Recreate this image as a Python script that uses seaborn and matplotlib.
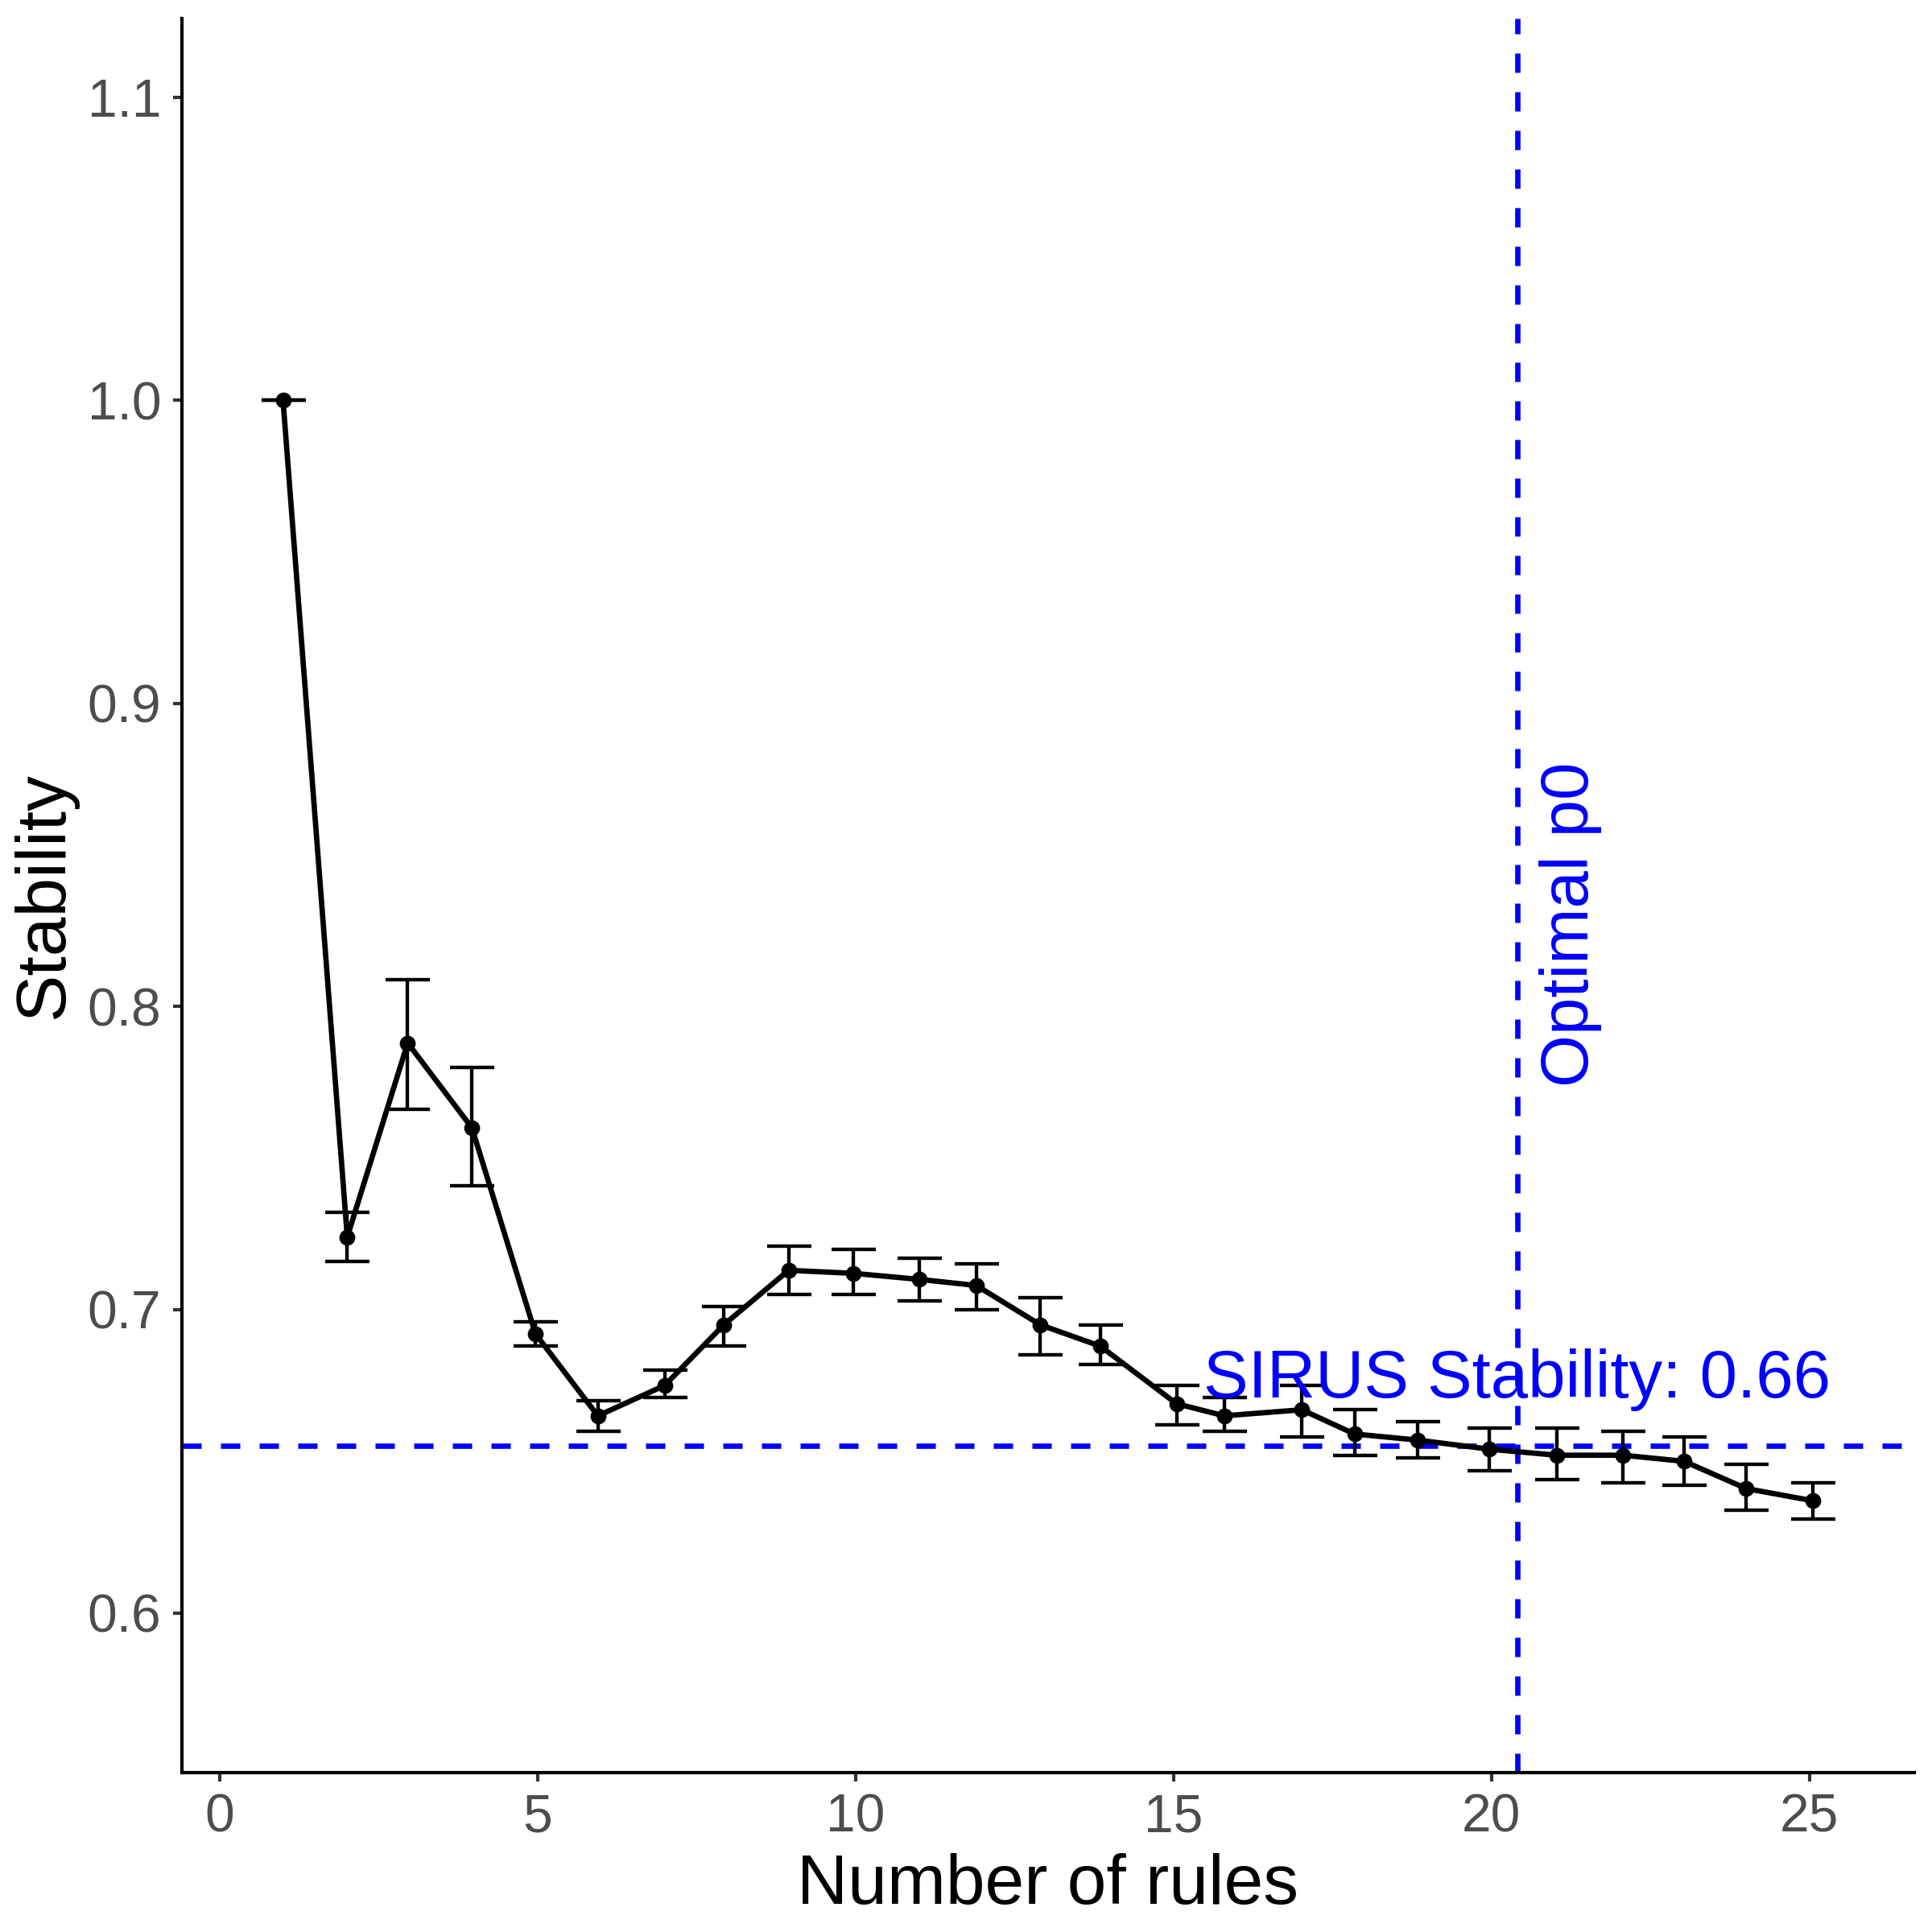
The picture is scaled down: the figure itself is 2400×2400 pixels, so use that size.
import numpy as np
import pandas as pd
import seaborn as sns
import matplotlib.pyplot as plt

# values
n_rules = [1.00, 2.01, 2.96, 3.97, 4.97, 5.95, 7.00, 7.93, 8.95, 9.97,
           11.01, 11.90, 12.91, 13.85, 15.05, 15.80, 17.02, 17.85, 18.84, 19.97,
           21.03, 22.07, 23.03, 24.01, 25.05]
stability = [1.000, 0.724, 0.788, 0.760, 0.692, 0.665, 0.675, 0.695, 0.713, 0.712,
             0.710, 0.708, 0.695, 0.688, 0.669, 0.665, 0.667, 0.659, 0.657, 0.654,
             0.652, 0.652, 0.650, 0.641, 0.637]
err_low = [1.000, 0.716, 0.766, 0.741, 0.688, 0.660, 0.671, 0.688, 0.705, 0.705,
           0.703, 0.700, 0.685, 0.682, 0.662, 0.660, 0.658, 0.652, 0.651, 0.647,
           0.644, 0.643, 0.642, 0.634, 0.631]
err_high = [1.000, 0.732, 0.809, 0.780, 0.696, 0.670, 0.680, 0.701, 0.721, 0.720,
            0.717, 0.715, 0.704, 0.695, 0.675, 0.671, 0.675, 0.667, 0.663, 0.661,
            0.661, 0.660, 0.658, 0.649, 0.643]
sirus_stability = 0.6552
optimal_p0 = 20.41

df = pd.DataFrame({'rules': n_rules, 'stability': stability,
                   'low': err_low, 'high': err_high})

sns.set_style('white')
plt.rcParams['font.family'] = ['Liberation Sans', 'DejaVu Sans']

fig = plt.figure(figsize=(8, 8), dpi=300)
ax = fig.add_axes([0.094, 0.0825, 0.8968, 0.908])

# error bars
ax.errorbar(df['rules'], df['stability'],
            yerr=[df['stability'] - df['low'], df['high'] - df['stability']],
            fmt='none', ecolor='black', elinewidth=1.05, capsize=6.6, capthick=1.05, zorder=2)

# line and points
sns.lineplot(data=df, x='rules', y='stability', color='black', linewidth=1.6, ax=ax, zorder=3)
sns.scatterplot(data=df, x='rules', y='stability', color='black', s=18, edgecolor='black',
                linewidth=0.5, ax=ax, zorder=4)

# reference lines
ax.axhline(sirus_stability, color='#0000FF', linestyle=(0, (3.6, 3.6)), linewidth=1.6, zorder=1)
ax.axvline(optimal_p0, color='#0000FF', linestyle=(0, (3.6, 3.6)), linewidth=1.6, zorder=1)
ax.text(optimal_p0, 0.6711, 'SIRUS Stability: 0.66', color='#0000FF', fontsize=20,
        ha='center', va='baseline')
ax.text(21.25, 0.827, 'Optimal p0', color='#0000FF', fontsize=20, rotation=90,
        ha='center', va='center')

ax.set_xlim(-0.595, 26.65)
ax.set_ylim(0.5473, 1.126)
ax.set_xticks([0, 5, 10, 15, 20, 25])
ax.set_yticks([0.6, 0.7, 0.8, 0.9, 1.0, 1.1])
ax.set_yticklabels(['0.6', '0.7', '0.8', '0.9', '1.0', '1.1'])

for side in ['top', 'right']:
    ax.spines[side].set_visible(False)
for side in ['left', 'bottom']:
    ax.spines[side].set_color('black')
    ax.spines[side].set_linewidth(1.0)
ax.tick_params(axis='both', which='major', length=2.6, width=1.0, color='#333333',
               labelcolor='#4D4D4D', labelsize=15.8, pad=3.5, direction='out',
               left=True, bottom=True)

ax.set_xlabel('Number of rules', fontsize=21, color='black', labelpad=3)
ax.set_ylabel('Stability', fontsize=21, color='black', labelpad=3)

fig.savefig('out.png', dpi=300)
